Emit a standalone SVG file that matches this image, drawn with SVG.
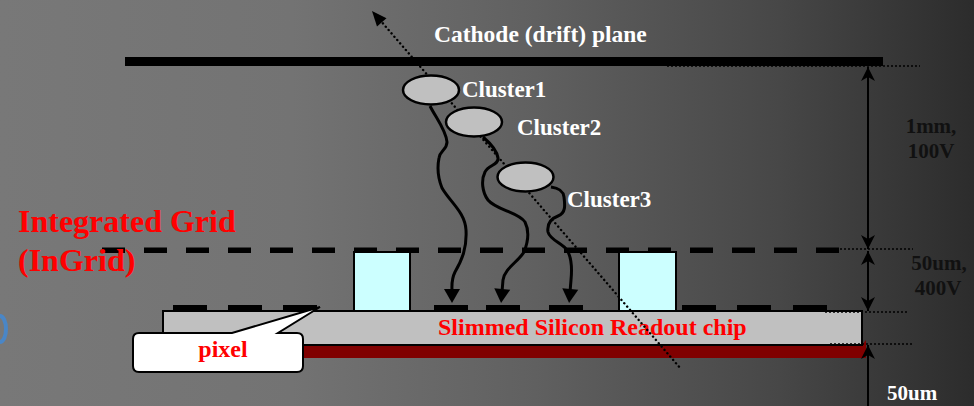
<svg xmlns="http://www.w3.org/2000/svg" width="974" height="406" viewBox="0 0 974 406">
  <defs>
    <linearGradient id="bg" x1="0" y1="0" x2="1" y2="0">
      <stop offset="0" stop-color="#787878"/>
      <stop offset="0.3" stop-color="#737373"/>
      <stop offset="0.55" stop-color="#606060"/>
      <stop offset="0.8" stop-color="#474747"/>
      <stop offset="1" stop-color="#2c2c2c"/>
    </linearGradient>
    <!-- filled head for drift paths -->
    <marker id="drift-head" markerUnits="userSpaceOnUse" viewBox="-4 -9 18 18" refX="0" refY="0" markerWidth="18" markerHeight="18" orient="auto">
      <path d="M11,0 L-3,-8 L-3,8 Z" fill="#000"/>
    </marker>
    <!-- notched head for dimension lines -->
    <marker id="dim-head" markerUnits="userSpaceOnUse" viewBox="-15 -8 16 16" refX="0" refY="0" markerWidth="16" markerHeight="16" orient="auto-start-reverse">
      <path d="M0,0 L-14,-7 L-10,0 L-14,7 Z" fill="#000"/>
    </marker>
    <style>
      .lbl { font-family: "Liberation Serif", "Times New Roman", serif; font-weight: bold; }
      .white { fill: #ffffff; }
      .red { fill: #ff0000; }
      .dark { fill: #111111; }
      .dots { stroke: #000; stroke-width: 1.6; stroke-dasharray: 2 2; fill: none; }
      .track { stroke: #000; stroke-width: 2.4; stroke-dasharray: 0.1 4.3; stroke-linecap: round; fill: none; }
      .drift { stroke: #000; stroke-width: 3; fill: none; marker-end: url(#drift-head); }
      .dim { stroke: #000; stroke-width: 2; fill: none; }
      .cluster { fill: #c0c0c0; stroke: #000; stroke-width: 2.5; }
      .pillar { fill: #ccffff; stroke: #000; stroke-width: 2; }
      .pad { fill: #000; }
    </style>
  </defs>

  <!-- background -->
  <rect x="0" y="0" width="974" height="406" fill="url(#bg)"/>
  <ellipse cx="0" cy="329" rx="6" ry="13" fill="none" stroke="#4a86c6" stroke-width="4"/>

  <!-- cathode plane -->
  <g id="cathode">
    <rect x="125" y="57" width="758" height="9" fill="#000"/>
    <text class="lbl white" x="434" y="42" font-size="23.5">Cathode (drift) plane</text>
  </g>

  <!-- integrated grid -->
  <g id="ingrid">
    <line x1="102" y1="250.3" x2="840" y2="250.3" stroke="#000" stroke-width="5.5" stroke-dasharray="23 19"/>
    <rect class="pillar" x="354" y="252" width="56" height="59"/>
    <rect class="pillar" x="619" y="252" width="57" height="59"/>
    <text class="lbl red" x="18" y="232" font-size="32">Integrated Grid</text>
    <text class="lbl red" x="18" y="271" font-size="32">(InGrid)</text>
  </g>

  <!-- readout chip -->
  <g id="chip">
    <path d="M163,345 H862 L866,340 V358 H163 Z" fill="#800000"/>
    <rect x="163" y="311" width="699" height="34" fill="#c0c0c0" stroke="#000" stroke-width="2"/>
    <rect class="pad" x="173" y="305" width="34" height="6"/>
    <rect class="pad" x="228" y="305" width="34" height="6"/>
    <rect class="pad" x="283" y="305" width="34" height="6"/>
    <rect class="pad" x="434" y="305" width="34" height="6"/>
    <rect class="pad" x="486" y="305" width="34" height="6"/>
    <rect class="pad" x="549" y="305" width="34" height="6"/>
    <rect class="pad" x="682" y="305" width="34" height="6"/>
    <rect class="pad" x="737" y="305" width="34" height="6"/>
    <rect class="pad" x="793" y="305" width="34" height="6"/>
    <text class="lbl red" x="438" y="335" font-size="24">Slimmed Silicon Readout chip</text>
  </g>

  <!-- pixel callout -->
  <g id="pixel-callout">
    <path d="M139,333 H232 L320,307 L278,333 H297 Q303,333 303,339 V366 Q303,372 297,372 H139 Q133,372 133,366 V339 Q133,333 139,333 Z" fill="#ffffff" stroke="#000" stroke-width="2"/>
    <text class="lbl red" x="223" y="357" font-size="24" text-anchor="middle">pixel</text>
  </g>

  <!-- connectors: track, drift paths, dimensions -->
  <g id="connectors">
    <line class="track" x1="380" y1="20" x2="681" y2="369"/>
    <polygon points="372,11 386.5,18.3 377,26.5" fill="#000"/>

    <path class="drift" d="M430,106 C436,118 446,130 447,142 C447,150 440,150 439,158 C437,168 438,178 442,188 C450,202 465,212 466,230 C467,248 462,260 455,272 C451,280 452,285 452,292"/>
    <path class="drift" d="M483,137 C490,143 497,150 498,158 C499,165 488,165 485,172 C481,180 482,192 488,200 C496,210 518,212 525,222 C530,232 528,242 524,252 C518,262 505,268 503,280 L502,292"/>
    <path class="drift" d="M551,187 C558,188 563,190 564,197 C565,205 566,213 558,216 C550,219 547,225 548,232 C550,240 562,243 567,250 C572,258 572,270 571,280 L570,292"/>

    <line class="dots" x1="667" y1="66" x2="920" y2="66"/>
    <line class="dots" x1="840" y1="249" x2="913" y2="249"/>
    <line class="dots" x1="825" y1="312" x2="907" y2="312"/>
    <line class="dots" x1="830" y1="344" x2="912" y2="344"/>

    <line class="dim" x1="868" y1="67" x2="868" y2="249" marker-start="url(#dim-head)" marker-end="url(#dim-head)"/>
    <line class="dim" x1="868" y1="251" x2="868" y2="311" marker-start="url(#dim-head)" marker-end="url(#dim-head)"/>
    <line class="dim" x1="868" y1="345" x2="868" y2="406" marker-start="url(#dim-head)"/>
  </g>

  <!-- charge clusters -->
  <g id="cluster1">
    <ellipse class="cluster" cx="431" cy="90" rx="28" ry="14.5"/>
    <text class="lbl white" x="462" y="97" font-size="23">Cluster1</text>
  </g>
  <g id="cluster2">
    <ellipse class="cluster" cx="474" cy="122" rx="28" ry="14.5"/>
    <text class="lbl white" x="517" y="135" font-size="23">Cluster2</text>
  </g>
  <g id="cluster3">
    <ellipse class="cluster" cx="525.5" cy="177" rx="28" ry="14.5"/>
    <text class="lbl white" x="567" y="207" font-size="23">Cluster3</text>
  </g>

  <!-- gap labels -->
  <g id="gap-labels">
    <text class="lbl dark" x="931" y="133" font-size="21" text-anchor="middle">1mm,</text>
    <text class="lbl dark" x="931" y="158" font-size="21" text-anchor="middle">100V</text>
    <text class="lbl dark" x="939" y="270" font-size="21" text-anchor="middle">50um,</text>
    <text class="lbl dark" x="938" y="295" font-size="21" text-anchor="middle">400V</text>
    <text class="lbl white" x="887" y="400" font-size="21">50um</text>
  </g>
</svg>
